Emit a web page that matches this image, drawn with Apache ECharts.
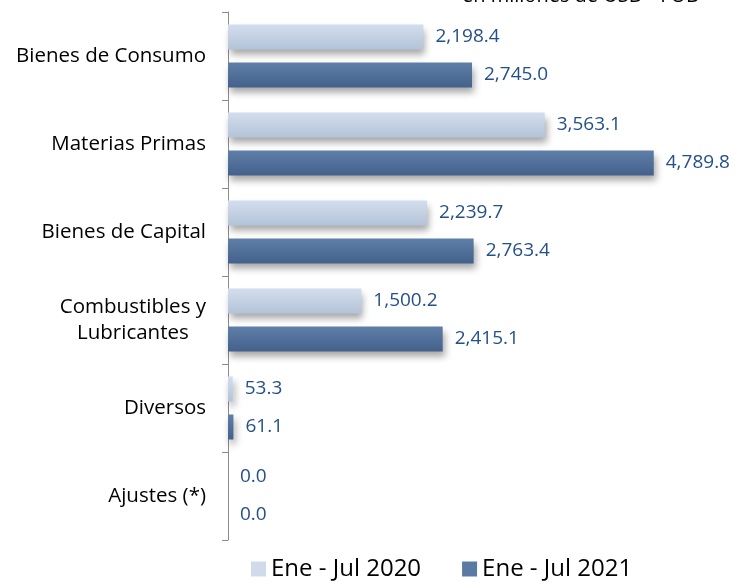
<!DOCTYPE html>
<html><head><meta charset="utf-8">
<script src="https://cdn.jsdelivr.net/npm/echarts@6/dist/echarts.min.js"></script>
<style>html,body{margin:0;padding:0;background:#fff}#c{width:745px;height:583px}</style>
</head><body><div id="c"></div>
<script>
const categories = ['Bienes de Consumo','Materias Primas','Bienes de Capital','Combustibles y\nLubricantes','Diversos','Ajustes (*)'];
const seriesNames = ['Ene - Jul 2020','Ene - Jul 2021'];
const values2020 = [2198.4, 3563.1, 2239.7, 1500.2, 53.3, 0.0];
const values2021 = [2745.0, 4789.8, 2763.4, 2415.1, 61.1, 0.0];
const unitText = 'en millones de USD - FOB';

const FONT = 'Open Sans';
const chart = echarts.init(document.getElementById('c'));
const fmt = v => v.toLocaleString('en-US',{minimumFractionDigits:1,maximumFractionDigits:1});
function grad(a,b){return new echarts.graphic.LinearGradient(0,0,0,1,[{offset:0,color:a},{offset:1,color:b}]);}
const lbl = {show:true, position:'right', distance:12, color:'#24508a', fontFamily:FONT, fontSize:19,
  formatter: p => fmt(p.value)};
chart.setOption({
  animation:false,
  textStyle:{fontFamily:FONT},
  graphic:[{type:'text', left:462, top:-14, style:{text:unitText, font:'20px "Open Sans"', fill:'#000'}}],
  grid:{left:228, top:12, width:480, height:528, containLabel:false},
  xAxis:{type:'value', min:0, max:5400, show:false},
  yAxis:{type:'category', inverse:true, data:categories,
    axisLine:{show:true, lineStyle:{color:'#8c8c8c', width:1}},
    axisTick:{show:true, length:6, lineStyle:{color:'#8c8c8c'}},
    axisLabel:{margin:22, color:'#000', fontFamily:FONT, fontSize:20.5, lineHeight:26,
      formatter: v => v.split('\n').map(s=>'{c|'+s+'}').join('\n'),
      rich:{c:{align:'center', fontFamily:FONT, fontSize:20.5, color:'#000', lineHeight:26}}}},
  legend:{top:552, left:246, itemWidth:15, itemHeight:15, itemGap:41, icon:'rect',
    textStyle:{fontFamily:FONT, fontSize:24, color:'#000'},
    data:[{name:seriesNames[0], itemStyle:{color:'#cfdbea', shadowBlur:0}},{name:seriesNames[1], itemStyle:{color:'#5b7aa3', shadowBlur:0}}]},
  series:[
    {name:seriesNames[0], type:'bar', data:values2020, barWidth:25, barGap:'52%',
      itemStyle:{color:grad('#d3deed','#b4c3d9'), shadowColor:'rgba(0,0,0,0.35)', shadowBlur:7, shadowOffsetX:2, shadowOffsetY:5},
      label:lbl},
    {name:seriesNames[1], type:'bar', data:values2021, barWidth:25,
      itemStyle:{color:grad('#5f7fa8','#43618a'), shadowColor:'rgba(0,0,0,0.35)', shadowBlur:7, shadowOffsetX:2, shadowOffsetY:5},
      label:lbl}
  ]
});
</script></body></html>
